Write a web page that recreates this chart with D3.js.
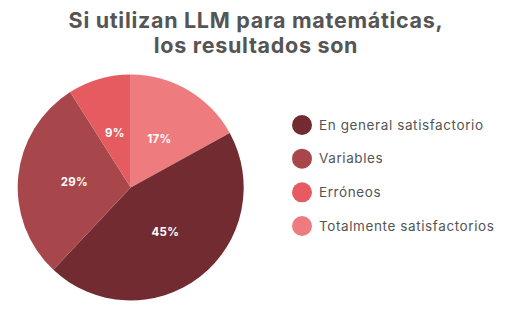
<!DOCTYPE html>
<html>
<head>
<meta charset="utf-8">
<script src="https://cdn.jsdelivr.net/npm/d3@7"></script>
<style>
  body { margin: 0; background: #fff; }
  svg { display: block; font-family: Inter, "Noto Sans", sans-serif; }
</style>
</head>
<body>
<div id="chart"></div>
<script>
// data
var categories = ['Totalmente satisfactorios', 'En general satisfactorio', 'Variables', 'Erróneos'];
var values = [17, 45, 29, 9];
var colors = ['#ee7c7e', '#722c31', '#a8474b', '#e65b60'];
var legendOrder = ['En general satisfactorio', 'Variables', 'Erróneos', 'Totalmente satisfactorios'];
var titleLines = ['Si utilizan LLM para matemáticas,', 'los resultados son'];

var width = 507, height = 312;

var svg = d3.select('#chart')
            .append('svg')
            .attr('width', width)
            .attr('height', height);

// title
svg.selectAll('.title')
   .data(titleLines)
   .enter()
   .append('text')
   .attr('class', 'title')
   .attr('x', 256)
   .attr('y', function(d, i) { return 28 + i * 25; })
   .attr('text-anchor', 'middle')
   .attr('font-size', 21.5)
   .attr('font-weight', 700)
   .attr('letter-spacing', 0.7)
   .attr('fill', '#555')
   .text(function(d) { return d; });

var color = d3.scaleOrdinal()
              .domain(categories)
              .range(colors);

var data = categories.map(function(c, i) {
  return { name: c, value: values[i] };
});

var pie = d3.pie()
            .sort(null)
            .value(function(d) { return d.value; });

var radius = 113;
var arc = d3.arc().innerRadius(0).outerRadius(radius);

var g = svg.append('g')
           .attr('transform', 'translate(130.7,187.5)');

var slices = g.selectAll('.slice')
              .data(pie(data))
              .enter()
              .append('g')
              .attr('class', 'slice');

slices.append('path')
      .attr('d', arc)
      .attr('fill', function(d) { return color(d.data.name); });

slices.append('text')
      .attr('transform', function(d) { return 'translate(' + arc.centroid(d) + ')'; })
      .attr('dy', '0.35em')
      .attr('text-anchor', 'middle')
      .attr('font-size', 11.5)
      .attr('font-weight', 700)
      .attr('letter-spacing', 0.3)
      .attr('fill', '#fff')
      .text(function(d) { return d.data.value + '%'; });

// legend
var y = d3.scalePoint()
          .domain(legendOrder)
          .range([125, 226]);

var legend = svg.selectAll('.legend')
                .data(legendOrder)
                .enter()
                .append('g')
                .attr('class', 'legend')
                .attr('transform', function(d) { return 'translate(302,' + y(d) + ')'; });

legend.append('circle')
      .attr('r', 10)
      .attr('fill', function(d) { return color(d); });

legend.append('text')
      .attr('x', 17)
      .attr('dy', '0.35em')
      .attr('font-size', 13.5)
      .attr('letter-spacing', 0.6)
      .attr('fill', '#555')
      .text(function(d) { return d; });
</script>
</body>
</html>
